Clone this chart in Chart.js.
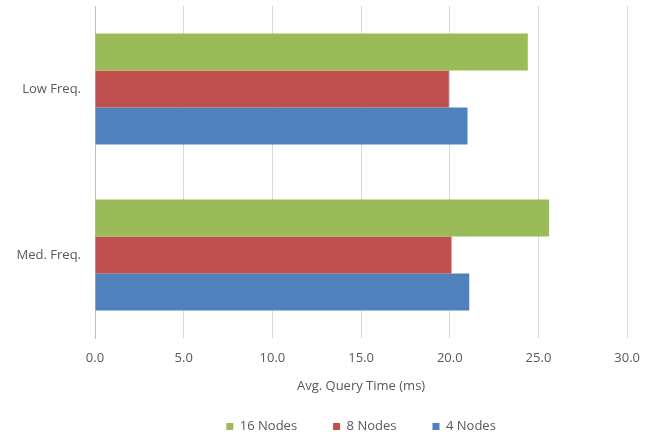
<!DOCTYPE html>
<html>
<head>
<meta charset="utf-8">
<script src="https://cdn.jsdelivr.net/npm/chart.js@4"></script>
<style>
  html, body { margin: 0; padding: 0; background: #ffffff; }
  #wrap { width: 652px; height: 436px; }
</style>
</head>
<body>
<div id="wrap"><canvas id="chart" width="652" height="436"></canvas></div>
<script>
// Workload categories (top to bottom)
const categories = ["Low Freq.", "Med. Freq."];

// Average query time in ms per cluster size
const nodes16 = [24.4, 25.6];
const nodes8  = [19.95, 20.1];
const nodes4  = [21.0, 21.1];

const seriesNames = ["16 Nodes", "8 Nodes", "4 Nodes"];
const xTicks = [0, 5, 10, 15, 20, 25, 30];

const textColor = "#595959";
const gridColor = "#d9d9d9";
const fontFamily = "'Open Sans', 'Liberation Sans', sans-serif";
const fontSize = 13;

new Chart(document.getElementById("chart"), {
  type: "bar",
  data: {
    labels: categories,
    datasets: [
      { label: seriesNames[0], data: nodes16, backgroundColor: "#9bbb59" },
      { label: seriesNames[1], data: nodes8,  backgroundColor: "#c0504d" },
      { label: seriesNames[2], data: nodes4,  backgroundColor: "#4f81bd" }
    ]
  },
  options: {
    indexAxis: "y",
    responsive: false,
    animation: false,
    layout: { padding: { top: 6, right: 24, bottom: 0, left: 0 } },
    datasets: { bar: { categoryPercentage: 0.67, barPercentage: 1.0 } },
    plugins: {
      tooltip: { enabled: false },
      legend: {
        position: "bottom",
        fullSize: false,
        maxHeight: 52,
        labels: {
          boxWidth: 7,
          boxHeight: 7,
          padding: 36,
          color: textColor,
          font: { family: fontFamily, size: fontSize }
        }
      }
    },
    scales: {
      x: {
        min: 0,
        max: 30,
        afterBuildTicks: (scale) => { scale.ticks = xTicks.map(v => ({ value: v })); },
        afterFit: (scale) => { scale.height = 46; },
        grid: { color: gridColor, drawTicks: false },
        border: { display: false },
        ticks: {
          padding: 12,
          color: textColor,
          font: { family: fontFamily, size: fontSize },
          callback: (v) => Number(v).toFixed(1)
        },
        title: {
          display: true,
          text: "Avg. Query Time (ms)",
          color: textColor,
          font: { family: fontFamily, size: fontSize },
          padding: { top: 0, bottom: -10 }
        }
      },
      y: {
        afterFit: (scale) => {
          scale.width = 95;
          scale.paddingTop = 0;
          scale.paddingBottom = 0;
        },
        grid: { display: false, drawTicks: false },
        border: { display: true, color: "#bfbfbf", width: 1 },
        ticks: {
          padding: 14,
          color: textColor,
          font: { family: fontFamily, size: fontSize }
        }
      }
    }
  }
});
</script>
</body>
</html>
